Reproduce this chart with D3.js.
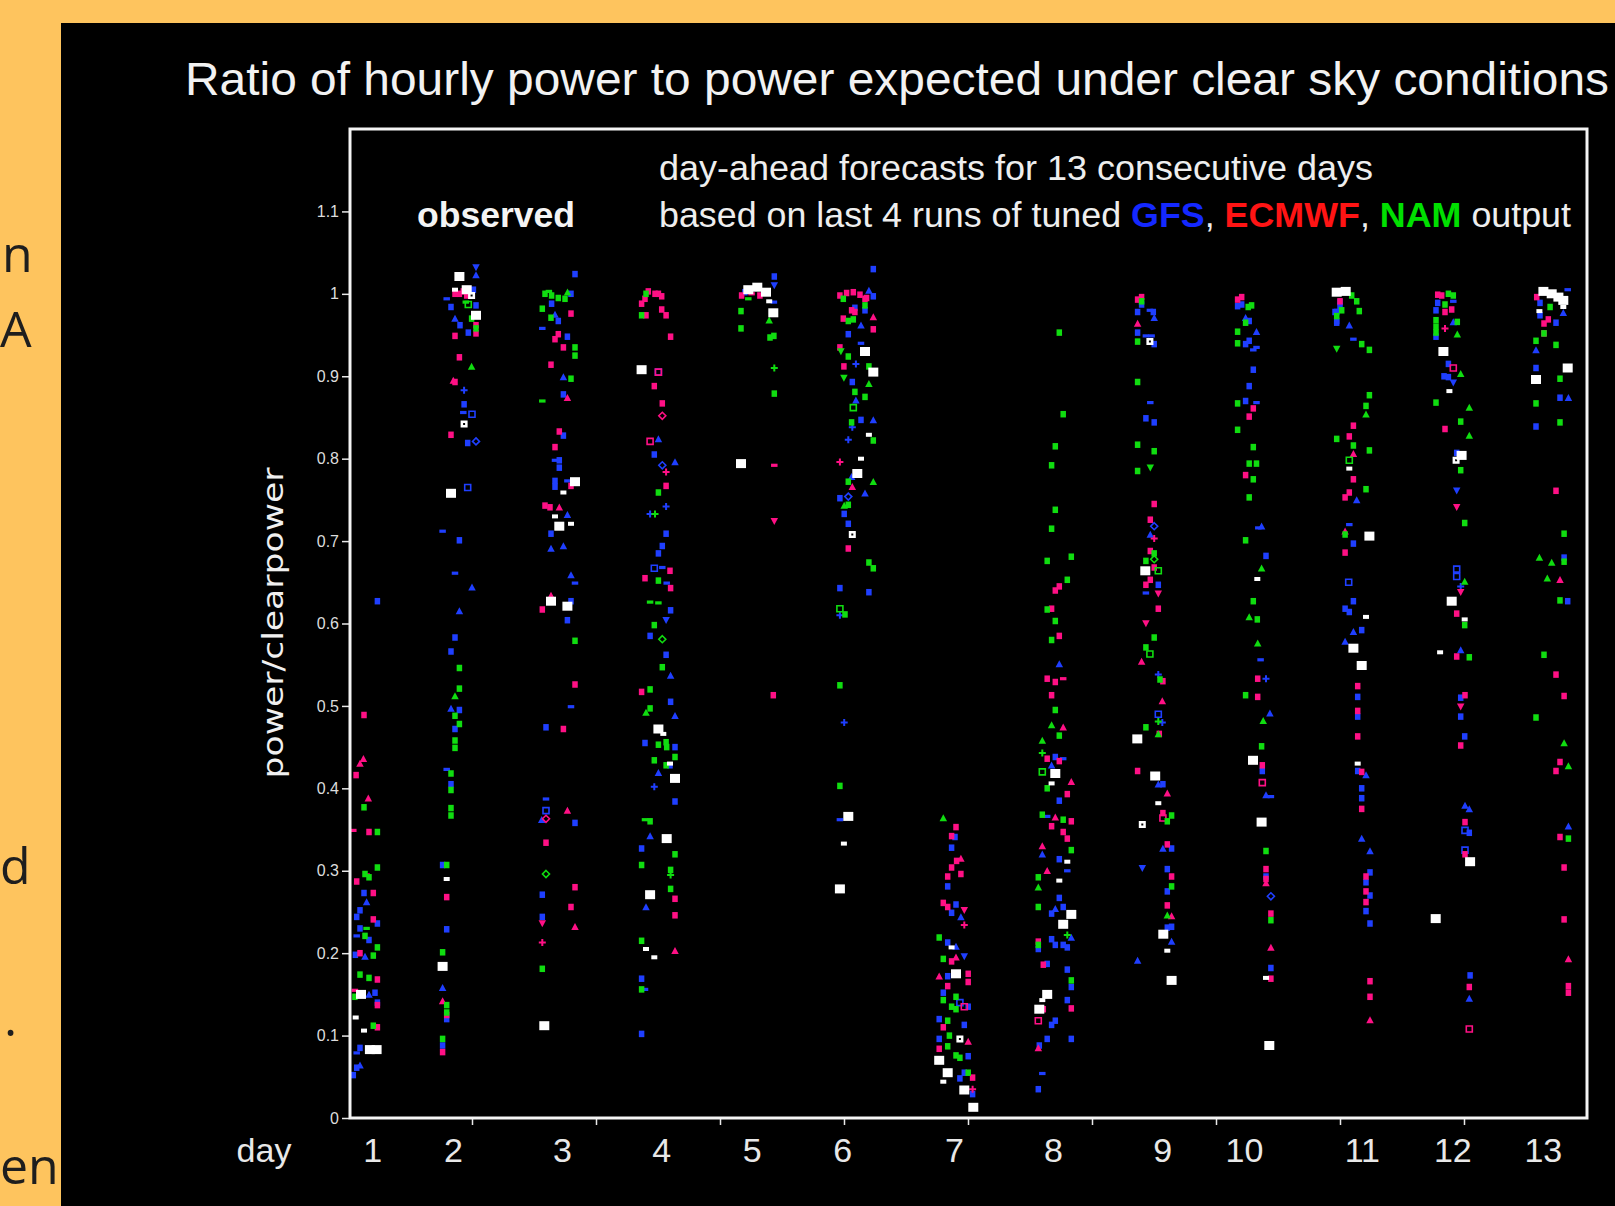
<!DOCTYPE html>
<html><head><meta charset="utf-8">
<script src="https://cdn.jsdelivr.net/npm/d3@7"></script>
<style>
html,body{margin:0;padding:0;background:#FEC45E;overflow:hidden;}
svg{display:block;}
</style></head><body>
<svg id="c" width="1615" height="1206"></svg>
<script>
// ---------------- DATA ----------------
// x = daylight-hour index (0..100), y = power / clearpower
// marker codes: s square, h dash, t up-triangle, v down-triangle, p plus, o open square, m diamond
const dayLabels = ["1","2","3","4","5","6","7","8","9","10","11","12","13"];
const dayLabelPos = [2.0, 8.5, 17.3, 25.3, 32.6, 39.9, 48.9, 56.9, 65.7, 72.3, 81.8, 89.1, 96.4];
const xTickValues = [10, 20, 30, 40, 50, 60, 70, 80, 90];
const yTickValues = [0, 0.1, 0.2, 0.3, 0.4, 0.5, 0.6, 0.7, 0.8, 0.9, 1, 1.1];
const yTickLabels = ["0", "0.1", "0.2", "0.3", "0.4", "0.5", "0.6", "0.7", "0.8", "0.9", "1", "1.1"];

const gfs = [
 [2.37,.627],[1.29,.273],[0.97,.252],[0.70,.244],[2.37,.236],[0.97,.230],[0.70,.221,'h'],[1.69,.216],[1.37,.196,'t'],[1.69,.150,'t'],[2.18,.152],[2.37,.140],[0.97,.085],[0.70,.079,'h'],[0.97,.064,'t'],[0.70,.061],[0.43,.052],[1.5,.262,'t'],[0.6,.198],
 [10.32,1.032,'v'],[10.32,1.023,'t'],[10.11,1.005],[10.32,.986],[8.31,.984],[7.96,.994,'h'],[8.63,.970,'t'],[9.03,.962],[9.70,.953],[9.36,.883,'p'],[9.36,.866],[9.30,.856,'h'],[10.0,.854,'o'],[9.65,.819],[10.32,.821,'m'],[9.65,.765,'o'],[7.63,.712,'h'],[8.98,.701],[8.63,.661,'h'],[10.0,.644,'t'],[8.98,.615,'t'],[8.63,.583],[8.31,.566],[8.31,.497,'t'],[8.98,.495],[8.63,.472],[7.96,.423,'h'],[8.31,.405],[7.63,.307],[7.96,.229],[7.63,.158,'t'],[7.96,.120],[7.63,.088],
 [18.31,1.024],[17.98,1.0],[16.42,.988],[16.69,.975,'t'],[16.96,.967],[17.69,.948],[15.67,.958,'h'],[17.37,.899,'t'],[17.37,.878],[17.37,.828],[17.04,.798],[16.69,.798,'h'],[17.04,.789],[16.69,.773],[16.69,.766],[17.69,.773,'h'],[17.69,.732,'t'],[16.37,.709],[16.37,.691,'t'],[17.37,.694,'t'],[17.98,.659,'t'],[18.31,.649,'h'],[17.98,.627],[17.69,.604],[17.98,.499,'h'],[15.97,.474],[15.97,.387,'h'],[15.97,.373,'o'],[15.62,.362,'t'],[18.31,.358],[15.67,.271],[15.67,.244],
 [25.03,.905,'o'],[25.03,.824,'t'],[24.70,.805],[25.35,.792,'m'],[26.37,.796,'t'],[25.65,.742,'p'],[24.36,.733,'p'],[25.65,.709],[25.35,.694],[25.03,.685],[24.70,.667,'o'],[25.35,.668,'h'],[25.70,.649,'h'],[26.02,.616],[25.65,.604,'v'],[24.36,.585],[25.65,.562],[26.02,.537,'t'],[26.02,.505],[26.37,.488,'t'],[23.95,.455],[26.37,.450],[25.97,.428],[25.03,.419,'t'],[24.70,.402,'p'],[26.37,.384],[24.36,.342,'t'],[23.68,.327],[24.03,.256,'t'],[23.68,.169],[23.95,.156,'h'],[23.68,.102],
 [34.38,1.021],[34.38,1.010,'v'],[32.01,1.002],[34.35,0.990,'h'],
 [42.36,1.030],[42.01,1.004,'t'],[42.36,.997],[40.88,.983],[41.69,.980],[41.37,.962,'t'],[40.35,.951],[41.37,.940,'h'],[40.96,.915,'p'],[40.67,.893],[40.96,.871,'t'],[41.37,.847],[42.36,.847,'t'],[40.67,.838,'p'],[40.35,.823,'p'],[40.61,.778,'t'],[41.69,.758,'t'],[39.67,.752],[40.35,.754,'m'],[40.02,.733],[40.35,.721],[39.67,.643],[42.01,.638],[39.67,.610,'p'],[40.02,.480,'p'],[39.67,.362,'h'],
 [48.95,.341],[48.68,.328],[48.36,.281],[49.03,.259],[48.68,.249],[49.43,.244,'t'],[48.36,.213],[49.03,.208,'t'],[49.70,.196,'v'],[48.36,.172],[48.01,.152],[49.35,.140,'o'],[50.02,.135],[47.68,.120],[49.70,.113],[47.68,.096],[50.02,.075],[49.70,.055],[49.35,.048],[50.37,.029],
 [57.36,.551,'t'],[57.04,.438],[57.68,.436,'h'],[56.74,.428,'t'],[57.36,.385],[56.39,.366,'h'],[55.99,.320,'t'],[57.36,.314],[58.01,.300,'h'],[57.36,.267],[56.74,.248],[57.04,.254,'t'],[57.68,.256],[56.74,.217],[57.04,.210],[58.33,.219,'t'],[57.68,.210],[58.01,.207],[55.67,.205],[56.39,.187],[58.01,.180],[58.33,.159],[58.01,.143],[57.04,.118],[56.74,.113],[56.39,.096],[58.33,.096],[55.75,.088],[55.99,.054,'h'],[55.67,.035],
 [64.0,.987],[63.68,.978],[64.67,.980,'h'],[64.94,.978],[65.02,.971,'t'],[63.68,.953],[64.35,.949,'h'],[64.81,.949,'h'],[65.02,.939],[64.70,.868,'h'],[64.35,.849],[65.02,.844],[65.02,.718,'m'],[64.70,.708,'t'],[65.35,.647],[64.35,.637,'h'],[65.35,.538,'p'],[65.35,.490,'o'],[65.67,.480,'p'],[65.35,.405,'t'],[65.72,.405],[65.72,.327,'t'],[66.42,.327],[64.06,.303,'v'],[66.07,.302],[66.07,.275],[66.42,.232],[66.07,.231],[66.42,.214,'t'],[63.68,.191,'t'],
 [71.74,.985],[72.07,.987],[72.68,.967],[72.39,.971,'t'],[73.27,.954,'t'],[72.68,.943],[72.39,.939],[73.01,.932,'h'],[73.27,.935,'h'],[73.01,.908],[72.68,.888],[72.39,.870],[73.27,.868,'h'],[73.68,.718,'t'],[73.41,.716,'h'],[74.03,.682],[73.6,.556,'h'],[74.03,.533,'p'],[74.35,.491,'t'],[73.73,.421],[74.03,.392,'t'],[74.43,.390,'h'],[74.03,.293],[74.43,.269,'m'],[74.43,.182],
 [80.0,.990],[79.73,.978],[80.0,.985],[79.6,.978],[79.73,.965],[79.73,.967],[80.75,.962,'t'],[81.08,.945,'h'],[81.35,.750,'t'],[80.75,.720,'h'],[81.08,.697],[80.7,.650,'o'],[81.08,.627],[80.41,.618],[80.75,.614],[81.08,.590,'t'],[81.75,.592],[80.41,.578,'t'],[81.43,.511],[81.43,.487],[81.43,.421],[82.1,.416,'t'],[81.75,.400],[81.75,.388],[81.75,.339,'t'],[82.42,.324,'t'],[82.42,.298],[82.1,.286],[82.42,.270],[82.1,.251],[82.42,.236],
 [87.88,.989],[89.14,.991,'h'],[87.74,.980],[89.14,.966,'t'],[87.74,.948],[88.74,.915],[88.39,.900],[88.74,.899],[89.14,.892,'v'],[89.41,.807],[89.41,.761,'v'],[89.41,.666,'o'],[89.41,.657,'o'],[89.73,.645,'p'],[89.73,.568,'t'],[89.73,.510],[89.73,.487],[90.06,.463],[90.08,.379,'t'],[90.43,.375,'t'],[90.08,.349,'o'],[90.43,.346],[90.08,.325,'o'],[90.49,.173],[90.43,.145,'t'],
 [98.36,1.005,'h'],[96.13,.989],[96.13,.974],[98.01,.977,'t'],[97.42,.965],[95.81,.932,'t'],[95.81,.910],[97.74,.874],[98.42,.874,'t'],[95.81,.839],[98.07,.680],[98.36,.627],[98.42,.354,'t']
];

const ecmwf = [
 [1.29,.489],[1.24,.436,'t'],[0.97,.430,'t'],[0.65,.416],[1.64,.388,'t'],[1.69,.347],[0.43,.349,'h'],[0.70,.287],[1.5,.295,'h'],[2.04,.273],[2.04,.241],[0.97,.200],[2.37,.168],[2.37,.137],[2.37,.110],[0.56,.155,'h'],
 [8.63,1.0],[8.98,1.0],[9.30,1.003],[9.57,0.998],[8.80,1.0,'h'],[10.32,.962],[10.32,.952],[8.63,.949],[8.98,.923],[8.49,.895,'t'],[8.63,.893],[8.31,.829],[7.96,.268],[7.63,.142,'t'],[7.96,.125],[7.63,.080],
 [17.98,.976],[16.96,.951],[16.69,.945],[17.37,.935],[16.37,.914],[17.69,.874,'t'],[17.04,.833],[16.69,.814],[17.98,.767],[15.89,.743],[16.29,.741],[17.04,.741,'t'],[16.37,.634,'t'],[15.67,.617],[18.31,.526],[17.37,.472],[15.97,.363,'m'],[17.69,.373,'t'],[15.97,.334],[18.31,.280],[17.98,.256],[15.67,.236,'v'],[18.31,.232,'t'],[15.67,.213,'p'],
 [24.22,1.003],[24.76,1.0],[25.03,1.0],[25.30,.997],[23.68,.988],[23.95,.994],[24.03,.974],[25.30,.981],[25.65,.974],[26.02,.948],[25.03,.905,'o'],[24.70,.888],[25.35,.867],[25.35,.852,'m'],[24.36,.821,'o'],[25.65,.784,'p'],[25.65,.767],[25.97,.664],[23.95,.655],[26.02,.643],[23.68,.517],[26.37,.266],[26.37,.246],[26.37,.203,'t'],
 [31.74,.998],[33.22,.998],[32.55,1.0,'h'],[34.38,.792,'h'],[34.38,.724,'v'],[34.30,.513],
 [39.67,.998],[40.21,1.001],[40.75,1.002],[41.29,.999],[41.82,.995],[41.69,.994],[40.61,.980],[40.88,.978],[42.36,.972,'t'],[39.94,.970],[42.36,.957],[39.67,.935],[39.99,.912],[39.67,.796,'p'],[40.67,.766,'t'],[40.35,.691],
 [49.03,.353],[48.68,.342],[49.43,.315,'t'],[49.08,.312],[48.68,.304],[49.43,.296],[48.36,.293],[48.01,.261],[48.36,.256],[49.70,.252,'v'],[49.70,.234,'p'],[48.68,.190],[49.03,.195,'t'],[47.68,.172,'t'],[50.02,.175],[50.02,.165],[48.36,.160],[49.70,.135,'o'],[48.01,.110],[47.68,.084],[50.02,.093,'t'],[50.37,.049],[50.37,.035,'p'],
 [57.36,.645],[57.04,.640],[56.74,.618],[57.36,.585],[56.39,.533],[57.04,.529],[57.68,.533,'h'],[56.74,.513],[57.68,.474,'t'],[56.39,.436],[57.36,.433],[58.33,.408,'t'],[58.01,.393],[57.04,.365,'t'],[58.33,.360],[56.74,.354],[57.68,.347],[58.01,.339],[55.99,.330,'t'],[56.39,.300,'t'],[55.67,.214],[56.07,.186],[56.07,.132],[58.33,.133],[55.67,.118,'o'],[55.67,.085,'t'],
 [64.0,.996],[63.68,.993],[63.68,.964,'t'],[65.02,.745],[64.70,.726],[65.02,.703,'p'],[64.70,.688],[65.02,.668],[64.70,.653],[64.35,.647],[65.35,.636,'v'],[65.35,.618],[64.35,.600,'v'],[64.0,.554,'t'],[65.72,.530],[65.67,.506,'t'],[65.43,.466],[63.68,.421],[66.07,.394,'t'],[65.72,.370],[65.72,.364,'o'],[66.07,.332],[66.42,.293],[66.07,.258],[66.42,.245,'t'],
 [72.07,.996],[71.74,.993],[73.01,.861],[72.68,.851],[72.39,.780],[73.36,.533],[73.36,.511],[73.73,.428],[73.73,.407,'o'],[74.03,.302],[74.03,.290],[74.03,.285,'t'],[74.43,.248],[74.43,.207,'t'],[74.43,.169],
 [80.0,.991],[81.08,.840],[80.75,.827],[81.08,.806,'t'],[81.08,.775],[80.75,.759],[80.41,.753],[80.41,.712,'t'],[80.41,.686],[81.43,.524],[81.43,.494],[81.43,.463],[81.75,.420],[81.75,.375],[82.1,.293],[82.1,.275],[82.1,.262],[82.42,.166],[82.42,.147],[82.42,.119,'t'],
 [87.88,.999],[88.2,.998],[88.47,.978],[89.01,.981],[88.47,.958,'p'],[89.14,.910,'o'],[88.47,.836],[89.41,.741,'v'],[89.73,.638,'v'],[89.41,.612],[89.41,.560],[90.08,.513],[89.73,.499,'v'],[89.73,.452],[90.08,.359],[90.08,.320],[90.43,.159],[90.43,.108,'o'],
 [95.86,.996],[96.8,.969],[96.45,.964],[96.45,.952],[97.42,.761],[97.74,.653,'t'],[97.42,.538],[98.07,.512],[97.74,.432],[97.42,.421],[97.74,.341],[98.07,.304],[98.07,.241],[98.42,.193,'t'],[98.42,.160],[98.42,.152]
];

const nam = [
 [1.29,.377],[2.37,.347],[2.37,.304],[1.37,.296],[1.69,.292],[1.5,.230,'h'],[1.37,.221],[2.37,.207],[2.04,.197],[0.97,.174],[1.69,.170],[0.56,.147],[2.04,.112],
 [9.70,.987,'o'],[9.97,.970],[10.32,.958],[9.50,.990,'h'],[9.97,.912,'t'],[8.98,.546],[8.98,.521],[8.63,.512,'t'],[8.63,.488],[8.98,.478],[8.63,.458],[8.63,.449],[8.31,.418],[8.31,.398],[8.31,.376],[8.31,.367],[7.96,.307],[7.63,.201],[7.96,.137],[7.63,.096],[7.96,.128],
 [15.89,1.0],[16.42,.998],[16.96,.995],[17.50,.994],[16.2,1.003,'h'],[17.7,1.002,'t'],[15.67,.982],[16.37,.971],[18.31,.935],[18.31,.925],[17.98,.897],[15.67,.870,'h'],[18.31,.579],[15.97,.296,'m'],[15.67,.181],
 [24.03,1.0],[23.68,.974],[25.03,.759],[24.76,.733,'p'],[25.03,.652],[24.36,.626,'h'],[25.03,.625,'h'],[24.70,.598],[25.35,.581,'m'],[25.35,.547],[24.36,.520],[24.36,.497],[24.03,.492,'t'],[25.03,.453],[25.65,.456],[25.70,.450],[24.70,.434],[25.65,.428],[26.37,.438],[23.95,.362,'h'],[24.36,.360],[26.37,.320],[23.68,.307],[26.02,.301],[26.02,.295,'p'],[26.02,.278],[23.68,.215],[23.68,.156],
 [32.28,.994,'h'],[31.69,.979],[31.69,.958],[33.97,.968,'t'],[34.03,.947],[34.35,.949],[34.38,.910,'p'],[34.38,.879],
 [39.94,.994],[41.69,.986],[40.35,.967],[40.75,.969],[39.75,.930,'v'],[40.35,.924],[42.01,.912],[39.99,.898,'v'],[42.01,.891,'t'],[40.88,.881],[41.69,.875],[40.75,.862,'o'],[40.61,.844],[42.36,.822],[40.35,.772],[42.36,.772,'t'],[40.02,.743,'t'],[40.35,.744],[42.01,.674],[42.36,.667],[39.67,.618,'o'],[40.08,.611],[39.67,.525],[39.67,.403],
 [48.01,.364,'t'],[47.68,.219],[48.01,.193],[49.03,.147],[48.01,.143],[48.68,.135],[49.03,.132],[48.36,.118],[48.36,.087],[49.03,.076],[49.35,.073],[50.02,.055],[48.5,.100],
 [57.36,.953],[57.68,.854],[57.04,.815],[56.74,.792],[57.04,.738],[56.74,.715],[56.39,.676],[58.33,.681],[58.01,.653],[56.39,.617],[57.04,.603],[56.74,.580],[57.04,.495],[56.74,.477,'t'],[57.36,.464],[55.99,.458,'t'],[55.99,.443,'p'],[55.99,.420,'o'],[56.39,.400],[55.99,.368],[57.68,.362],[58.33,.325],[55.67,.292],[55.67,.280,'t'],[55.67,.256],[58.01,.222,'p'],[55.67,.210],[58.33,.167],
 [64.0,.991],[63.68,.942],[63.68,.893],[63.68,.817],[65.02,.809],[64.70,.789,'v'],[63.68,.785],[65.02,.685],[65.02,.678,'m'],[64.35,.676],[65.35,.664,'o'],[65.02,.583],[64.35,.571],[64.67,.563,'o'],[65.48,.532],[65.35,.481,'p'],[64.35,.474],[65.35,.466,'t'],[66.42,.367],[66.07,.360],[66.42,.281],[66.07,.246,'t'],
 [72.87,.986],[72.6,.984],[72.39,.965],[71.74,.954],[71.74,.940],[71.74,.867],[71.74,.835],[73.01,.814],[72.68,.794],[73.27,.794],[73.01,.775],[72.68,.753],[72.39,.701],[73.68,.667,'t'],[73.01,.627],[72.68,.608,'t'],[73.33,.605],[73.36,.576,'t'],[72.39,.513],[73.81,.482,'t'],[73.68,.451],[74.03,.324],[74.43,.240],
 [80.94,.998],[81.35,.991],[80.14,.980],[81.56,.979],[79.73,.973],[81.75,.939],[79.73,.933,'v'],[82.37,.932],[82.37,.877],[82.1,.864],[82.1,.854,'t'],[79.73,.824],[81.08,.816],[82.37,.810],[80.75,.798,'o'],[82.1,.763],[80.41,.708],
 [88.74,1.0],[89.14,.998],[88.47,.987],[87.74,.968],[87.74,.960],[87.74,.953],[89.46,.966],[89.46,.951,'t'],[89.73,.903,'t'],[87.74,.868],[90.43,.862,'t'],[89.73,.845],[90.43,.828,'t'],[89.73,.786],[90.06,.722],[90.06,.651,'t'],[90.06,.598],[90.43,.559],
 [96.94,.984],[96.45,.952],[95.81,.943],[97.42,.938],[97.74,.897],[95.81,.867],[97.74,.844],[98.07,.709],[96.08,.680,'t'],[98.07,.675],[97.07,.674,'t'],[96.72,.655,'t'],[97.74,.628],[96.45,.562],[95.81,.486],[98.07,.455,'t'],[98.42,.427,'t'],[98.42,.339]
];

// observed: B big square, s small, o open
const observed = [
 [1.05,.150,'B'],[0.62,.122,'s'],[1.29,.106,'s'],[1.77,.083,'B'],[2.31,.083,'B'],
 [8.98,1.021,'B'],[8.63,1.005,'s'],[9.57,1.005,'B'],[9.97,.998,'o'],[10.32,.974,'B'],[9.36,.842,'o'],[8.31,.758,'B'],[7.96,.290,'s'],[7.63,.184,'B'],
 [18.31,.772,'B'],[17.37,.759,'s'],[16.69,.730,'s'],[17.04,.718,'B'],[17.98,.721,'s'],[16.37,.627,'B'],[17.69,.621,'B'],[15.83,.112,'B'],
 [23.68,.908,'B'],[25.03,.472,'B'],[25.43,.466,'s'],[25.97,.430,'s'],[26.37,.412,'B'],[25.70,.339,'B'],[24.36,.271,'B'],[24.03,.205,'s'],[24.70,.195,'s'],
 [32.28,1.005,'B'],[33.01,1.008,'B'],[33.71,1.002,'B'],[33.97,.991,'s'],[34.30,.977,'B'],[31.69,.794,'B'],
 [41.69,.930,'B'],[42.36,.905,'B'],[42.01,.829,'s'],[41.37,.800,'s'],[41.07,.782,'B'],[40.67,.708,'o'],[40.35,.366,'B'],[39.99,.333,'s'],[39.67,.278,'B'],
 [48.68,.207,'s'],[49.03,.175,'B'],[49.35,.096,'o'],[47.68,.070,'B'],[48.36,.055,'B'],[48.01,.044,'s'],[49.70,.034,'B'],[50.43,.013,'B'],
 [57.04,.418,'B'],[56.74,.406,'s'],[58.01,.311,'s'],[57.36,.288,'s'],[58.33,.247,'B'],[57.68,.235,'B'],[56.39,.150,'B'],[55.99,.143,'s'],[55.75,.132,'B'],
 [64.67,.942,'o'],[64.3,.664,'B'],[63.65,.460,'B'],[65.1,.415,'B'],[65.35,.382,'s'],[64.06,.356,'o'],[65.75,.223,'B'],[66.07,.203,'s'],[66.42,.167,'B'],
 [73.33,.654,'s'],[72.98,.434,'B'],[73.68,.359,'B'],[74.03,.170,'s'],[74.3,.088,'B'],
 [79.73,1.002,'B'],[80.46,1.003,'B'],[80.75,.788,'s'],[82.37,.706,'B'],[82.1,.608,'s'],[81.08,.570,'B'],[81.75,.549,'B'],[81.43,.430,'s'],
 [88.34,.930,'B'],[88.82,.882,'s'],[89.81,.804,'B'],[89.36,.798,'o'],[89.01,.627,'B'],[90.06,.605,'s'],[88.07,.565,'s'],[90.49,.311,'B'],[87.72,.242,'B'],
 [96.4,1.003,'B'],[97.07,1.0,'B'],[97.61,.996,'B'],[98.01,.992,'B'],[98.01,.984,'s'],[96.08,.979,'s'],[98.36,.910,'B'],[95.81,.896,'B']
];

// ends of lines of the slide text behind the chart (as visible at left edge)
const slideFragments = [["n", 2, 272], ["A", 0, 347], ["d", 0, 884], [".", 4, 1036], ["en", 0, 1184]];

// ---------------- DRAW ----------------
const W = 1615, H = 1206;
const svg = d3.select('#c');
const FONT = "'Liberation Sans', Arial, Helvetica, sans-serif";

svg.append('rect').attr('width', W).attr('height', H).attr('fill', '#FEC45E');
svg.append('g').selectAll('text').data(slideFragments).join('text')
  .attr('x', d => d[1]).attr('y', d => d[2])
  .attr('text-anchor', 'start')
  .attr('font-family', "'Open Sans', 'Noto Sans', sans-serif")
  .attr('font-size', 50).attr('fill', '#1e1e1e')
  .text(d => d[0]);

svg.append('rect').attr('x', 61).attr('y', 23).attr('width', W - 61).attr('height', H - 23).attr('fill', '#000');

const x = d3.scaleLinear().domain([0, 100]).range([348, 1588]);
const y = d3.scaleLinear().domain([0, 1.2]).range([1118, 129]);

// title + annotations
svg.append('text').attr('x', 185).attr('y', 95)
  .attr('font-family', FONT).attr('font-size', 47).attr('fill', '#f2f2f2')
  .attr('textLength', 1424).attr('lengthAdjust', 'spacingAndGlyphs')
  .text('Ratio of hourly power to power expected under clear sky conditions');

svg.append('text').attr('x', 659).attr('y', 180)
  .attr('font-family', FONT).attr('font-size', 35).attr('fill', '#eeeeee')
  .attr('textLength', 714).attr('lengthAdjust', 'spacingAndGlyphs')
  .text('day-ahead forecasts for 13 consecutive days');

const sub2 = svg.append('text').attr('x', 659).attr('y', 227)
  .attr('font-family', FONT).attr('font-size', 35).attr('fill', '#eeeeee');
const parts = [
  ['based on last 4 runs of tuned ', '#eeeeee', 'normal'],
  ['GFS', '#1428ff', 'bold'], [', ', '#eeeeee', 'normal'],
  ['ECMWF', '#ff1414', 'bold'], [', ', '#eeeeee', 'normal'],
  ['NAM', '#00e000', 'bold'], [' output', '#eeeeee', 'normal']
];
sub2.selectAll('tspan').data(parts).join('tspan')
  .attr('fill', d => d[1]).attr('font-weight', d => d[2]).text(d => d[0]);
sub2.attr('textLength', 912).attr('lengthAdjust', 'spacingAndGlyphs');

svg.append('text').attr('x', 417).attr('y', 227)
  .attr('font-family', FONT).attr('font-size', 35).attr('font-weight', 'bold').attr('fill', '#f4f4f4')
  .attr('textLength', 158).attr('lengthAdjust', 'spacingAndGlyphs')
  .text('observed');

// y label
svg.append('text').attr('transform', 'translate(283,623) rotate(-90)')
  .attr('text-anchor', 'middle')
  .attr('font-family', "'DejaVu Sans', sans-serif").attr('font-size', 29).attr('fill', '#f0f0f0')
  .attr('textLength', 311).attr('lengthAdjust', 'spacingAndGlyphs')
  .text('power/clearpower');

// markers
const shapes = {
  s: 'M-2.75,-3.25h5.5v6.5h-5.5z',
  h: 'M-3.25,-1.6h6.5v3.2h-6.5z',
  t: 'M0,-3.75L3.75,3.25L-3.75,3.25z',
  v: 'M0,3.75L3.75,-3.25L-3.75,-3.25z',
  p: 'M-3.5,-1h7v2h-7z M-1,-3.5h2v7h-2z',
  o: 'M-3,-3h6v6h-6z',
  m: 'M0,-3.5L3.5,0L0,3.5L-3.5,0z'
};
const openTypes = { o: true, m: true };
function drawSeries(data, color) {
  svg.append('g').selectAll('path').data(data).join('path')
    .attr('d', d => shapes[d[2] || 's'])
    .attr('transform', d => `translate(${x(d[0]).toFixed(1)},${y(d[1]).toFixed(1)})`)
    .attr('fill', d => openTypes[d[2]] ? 'none' : color)
    .attr('stroke', d => openTypes[d[2]] ? color : 'none')
    .attr('stroke-width', 1.6);
}
drawSeries(gfs, '#1f3fff');
drawSeries(ecmwf, '#ff1085');
drawSeries(nam, '#10dd10');

const obsShapes = {
  B: 'M-5,-4.5h10v9h-10z',
  s: 'M-3,-2h6v4h-6z',
  o: 'M-3.5,-3.5h7v7h-7z M-1,-1h2v2h-2z'
};
svg.append('g').selectAll('path').data(observed).join('path')
  .attr('d', d => obsShapes[d[2]])
  .attr('fill-rule', 'evenodd')
  .attr('transform', d => `translate(${x(d[0]).toFixed(1)},${y(d[1]).toFixed(1)})`)
  .attr('fill', '#ffffff');

// axes
const yAxis = svg.append('g').attr('transform', 'translate(349,0)')
  .call(d3.axisLeft(y).tickValues(yTickValues).tickSize(7).tickPadding(3)
    .tickFormat((d, i) => yTickLabels[i]));
yAxis.select('.domain').remove();
yAxis.selectAll('line').attr('stroke', '#e8e8e8').attr('stroke-width', 1.5);
yAxis.selectAll('text').attr('fill', '#dcdcdc').attr('font-family', FONT).attr('font-size', 16);

const xAxis = svg.append('g').attr('transform', 'translate(0,1119)')
  .call(d3.axisBottom(x).tickValues(xTickValues).tickSize(6).tickFormat(''));
xAxis.select('.domain').remove();
xAxis.selectAll('line').attr('stroke', '#e8e8e8').attr('stroke-width', 1.5);

// frame
svg.append('rect').attr('x', x(0) + 2).attr('y', y(1.2)).attr('width', x(100) - x(0) - 3).attr('height', y(0) - y(1.2))
  .attr('fill', 'none').attr('stroke', '#f4f4f4').attr('stroke-width', 3);

// day labels
svg.append('g').selectAll('text').data(dayLabels).join('text')
  .attr('x', (d, i) => x(dayLabelPos[i])).attr('y', 1162)
  .attr('text-anchor', 'middle')
  .attr('font-family', FONT).attr('font-size', 34).attr('fill', '#e8e8e8')
  .text(d => d);
svg.append('text').attr('x', 264).attr('y', 1162).attr('text-anchor', 'middle')
  .attr('font-family', FONT).attr('font-size', 34).attr('fill', '#e8e8e8').text('day');
</script>
</body></html>
